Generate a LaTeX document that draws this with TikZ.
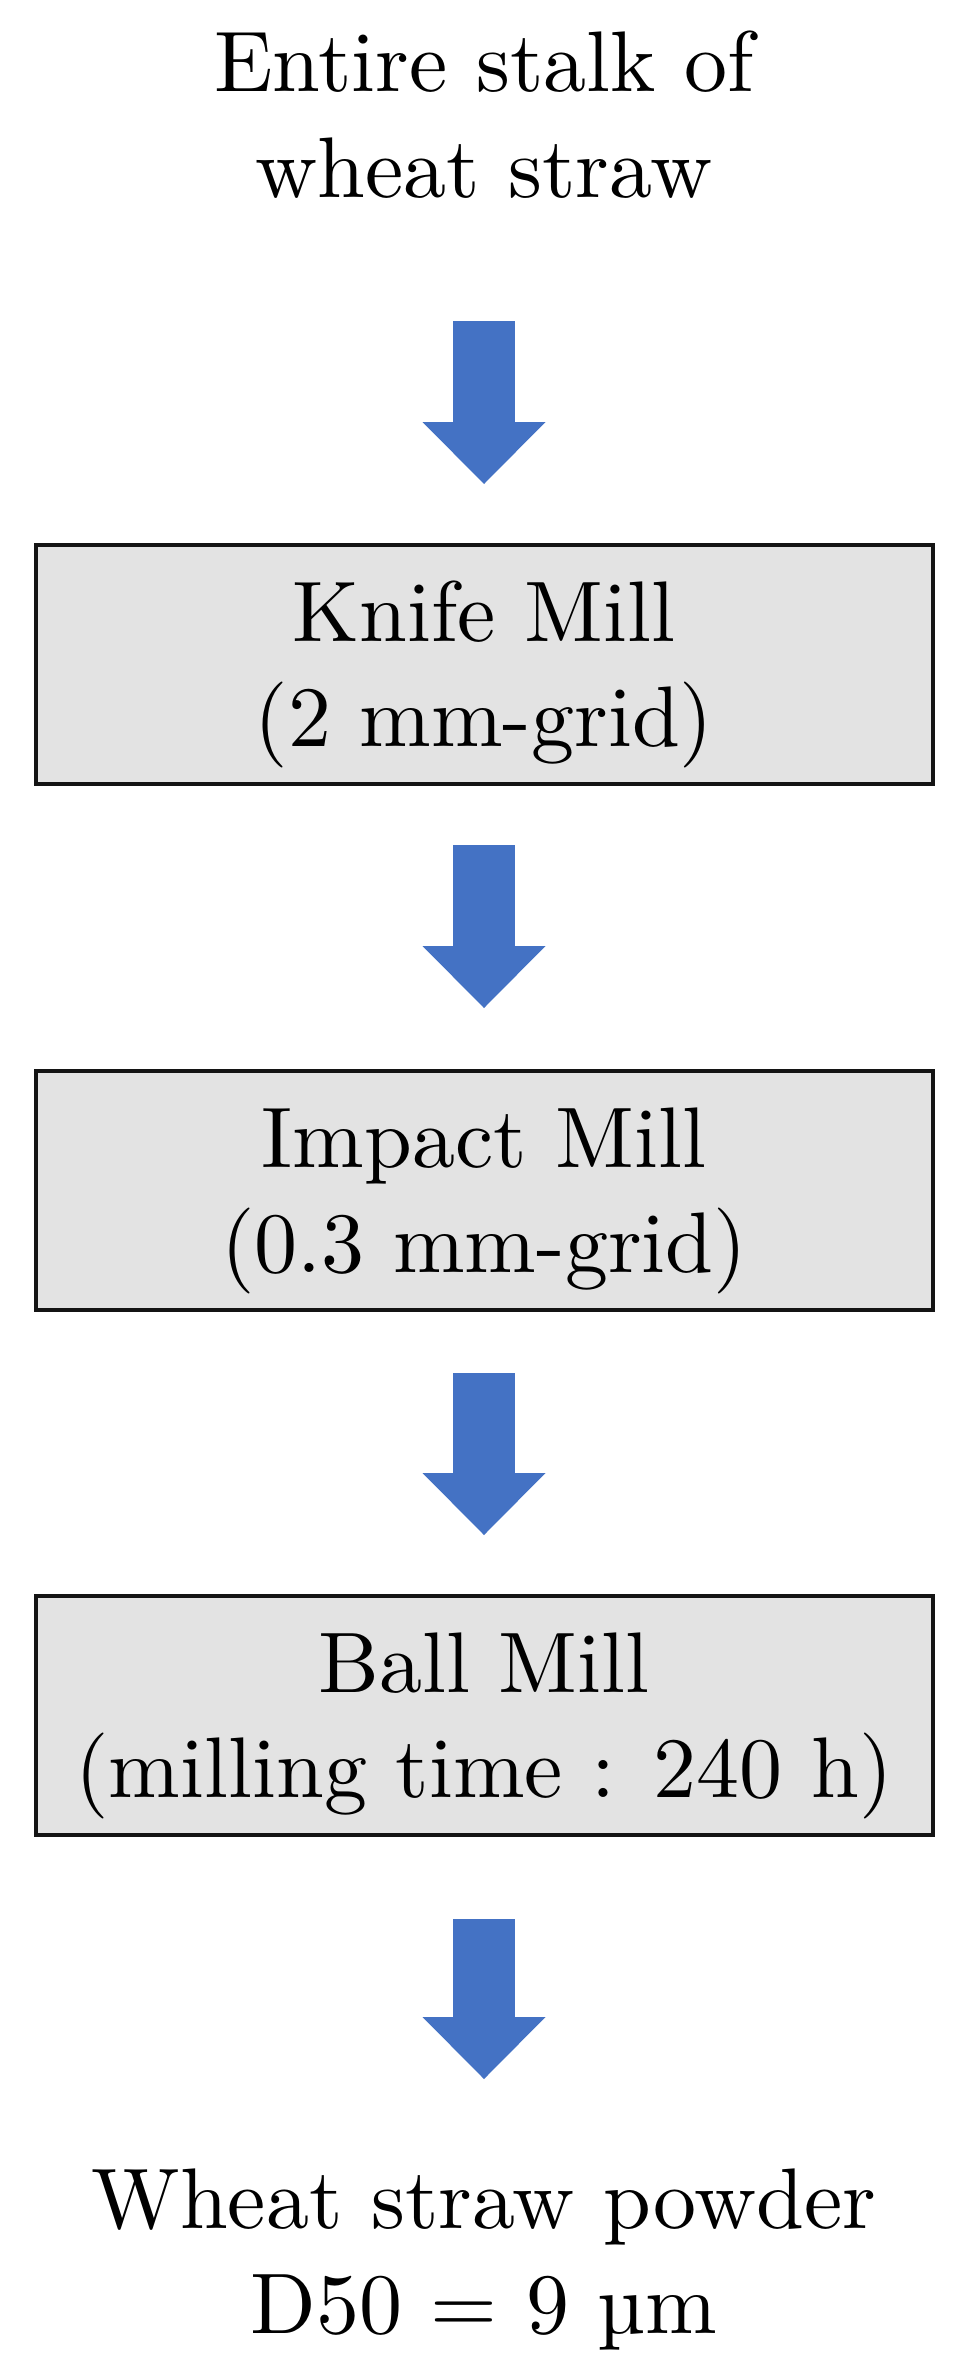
\documentclass[tikz,border=0pt]{standalone}
\usepackage{fontspec}
\newfontfamily\lmten{lmroman10-regular}[Extension=.otf]
\usetikzlibrary{arrows.meta}
\definecolor{arrowblue}{HTML}{4472C4}
\definecolor{boxgray}{HTML}{E3E3E3}
\definecolor{boxline}{HTML}{141414}
\newcommand\flowfont{\lmten\fontsize{86}{105}\selectfont}
\newcommand\twolines[2]{\begin{tabular}[t]{@{}c@{}}#1\\#2\end{tabular}}
\begin{document}
\begin{tikzpicture}[x=1pt,y=1pt,
  txt/.style={inner sep=0pt, outer sep=0pt, font=\flowfont, anchor=base},
  millbox/.style={draw=boxline, line width=4pt, fill=boxgray,
    minimum width=897pt, minimum height=239pt, inner sep=0pt, outer sep=0pt,
    font=\flowfont},
  flowarrow/.style={arrowblue, line width=62pt,
    -{Triangle[width=123pt,length=62pt,line width=0pt]}}]
\fill[white] (0,0) rectangle (960,-2374);
\path[use as bounding box] (0,0) rectangle (960,-2374);

\node[txt] (title) at (484,-92) {\twolines{Entire stalk of}{wheat straw}};

\node[millbox] (knife) at (484,-664.5)
  {\raisebox{23pt}[0pt][0pt]{\twolines{Knife Mill}{(2 mm-grid)}}};
\node[millbox] (impact) at (484,-1190)
  {\raisebox{23pt}[0pt][0pt]{\twolines{Impact Mill}{(0.3 mm-grid)}}};
\node[millbox] (ball) at (484,-1715)
  {\raisebox{23pt}[0pt][0pt]{\twolines{Ball Mill}{(milling time : 240 h)}}};

\node[txt] (powder) at (484,-2228) {\twolines{Wheat straw powder}{D50 = 9 µm}};

\draw[flowarrow, shorten <=92.5pt, shorten >=61pt] (title.south) -- (knife.north);
\draw[flowarrow, shorten <=61pt, shorten >=62.5pt] (knife.south) -- (impact.north);
\draw[flowarrow, shorten <=63.5pt, shorten >=60.5pt] (impact.south) -- (ball.north);
\draw[flowarrow, shorten <=84.5pt, shorten >=75.5pt] (ball.south) -- (powder.north);
\end{tikzpicture}
\end{document}
